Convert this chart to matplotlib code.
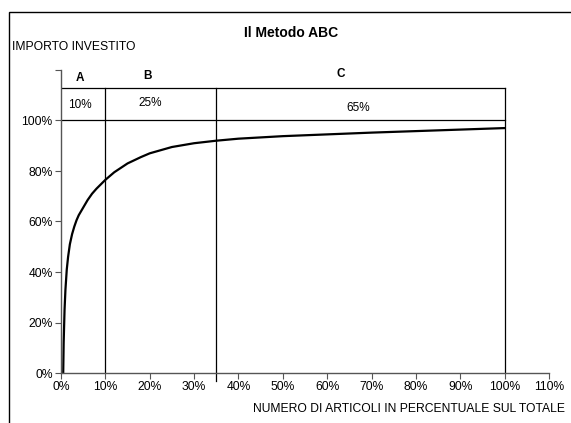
import matplotlib.pyplot as plt
from matplotlib.patches import Rectangle
from matplotlib.ticker import MultipleLocator, FuncFormatter

plt.rcParams['font.family'] = ['Liberation Sans', 'DejaVu Sans']

# cumulative share of investment vs share of items
articoli = [0.5, 0.6, 0.8, 1, 1.3, 1.6, 2, 2.5, 3, 3.5, 4, 5, 6, 7, 8, 10, 12,
            15, 18, 20, 25, 30, 35, 40, 50, 60, 70, 80, 90, 100]
importo = [0, 12, 25, 33, 41, 46, 51, 55, 58, 60.5, 62.5, 65.5, 68.5, 71,
           73, 76.5, 79.5, 83, 85.5, 87, 89.5, 91, 92, 92.8, 93.8, 94.5,
           95.2, 95.8, 96.4, 97]

# class boundaries and labels
classi = ['A', 'B', 'C']
confini = [0, 10, 35, 100]
quote = ['10%', '25%', '65%']

fig = plt.figure(figsize=(5.71, 4.23), dpi=100)
fig.patches.append(Rectangle((9 / 571, -0.05), 1.1, 1 - 12 / 423 + 0.05,
                             transform=fig.transFigure, fill=False,
                             edgecolor='black', linewidth=1.0))
ax = fig.add_axes([61 / 571, 1 - 373 / 423, (549 - 61) / 571, (373 - 70) / 423])

ax.plot(articoli, importo, color='black', linewidth=1.6)

# table above the curve
top = 113
for x in confini[1:]:
    ax.plot([x, x], [0, top], color='black', linewidth=0.9)
ax.plot([35, 35], [-3, 0], color='black', linewidth=0.9, clip_on=False)
ax.plot([0, 100], [100, 100], color='black', linewidth=0.9)
ax.plot([0, 100], [top, top], color='black', linewidth=0.9)

pos_classi = [(4.3, 117), (19.6, 117.5), (63, 118.5)]
pos_quote = [(4.3, 106.3), (20, 107), (67, 105)]
for c, (x, y) in zip(classi, pos_classi):
    ax.text(x, y, c, ha='center', va='center', fontsize=8.5, fontweight='bold')
for q, (x, y) in zip(quote, pos_quote):
    ax.text(x, y, q, ha='center', va='center', fontsize=8.5)

ax.set_xlim(0, 110)
ax.set_ylim(0, 120)
ax.xaxis.set_major_locator(MultipleLocator(10))
ax.yaxis.set_major_locator(MultipleLocator(20))
ax.xaxis.set_major_formatter(FuncFormatter(lambda v, p: f'{v:.0f}%'))
ax.yaxis.set_major_formatter(FuncFormatter(lambda v, p: '' if v > 100 else f'{v:.0f}%'))
ax.tick_params(labelsize=8.7, length=4, width=0.8, color='#555555', pad=2)
for s in ['top', 'right']:
    ax.spines[s].set_visible(False)
for s in ['left', 'bottom']:
    ax.spines[s].set_color('#555555')
    ax.spines[s].set_linewidth(1.0)

fig.text(291 / 571, 1 - 33 / 423, 'Il Metodo ABC', ha='center', va='center',
         fontsize=10, fontweight='bold')
fig.text(12 / 571, 1 - 47 / 423, 'IMPORTO INVESTITO', ha='left', va='center',
         fontsize=8.7)
fig.text(565 / 571, 1 - 409 / 423, 'NUMERO DI ARTICOLI IN PERCENTUALE SUL TOTALE',
         ha='right', va='center', fontsize=8.7)

fig.savefig('out.png', dpi=100)
